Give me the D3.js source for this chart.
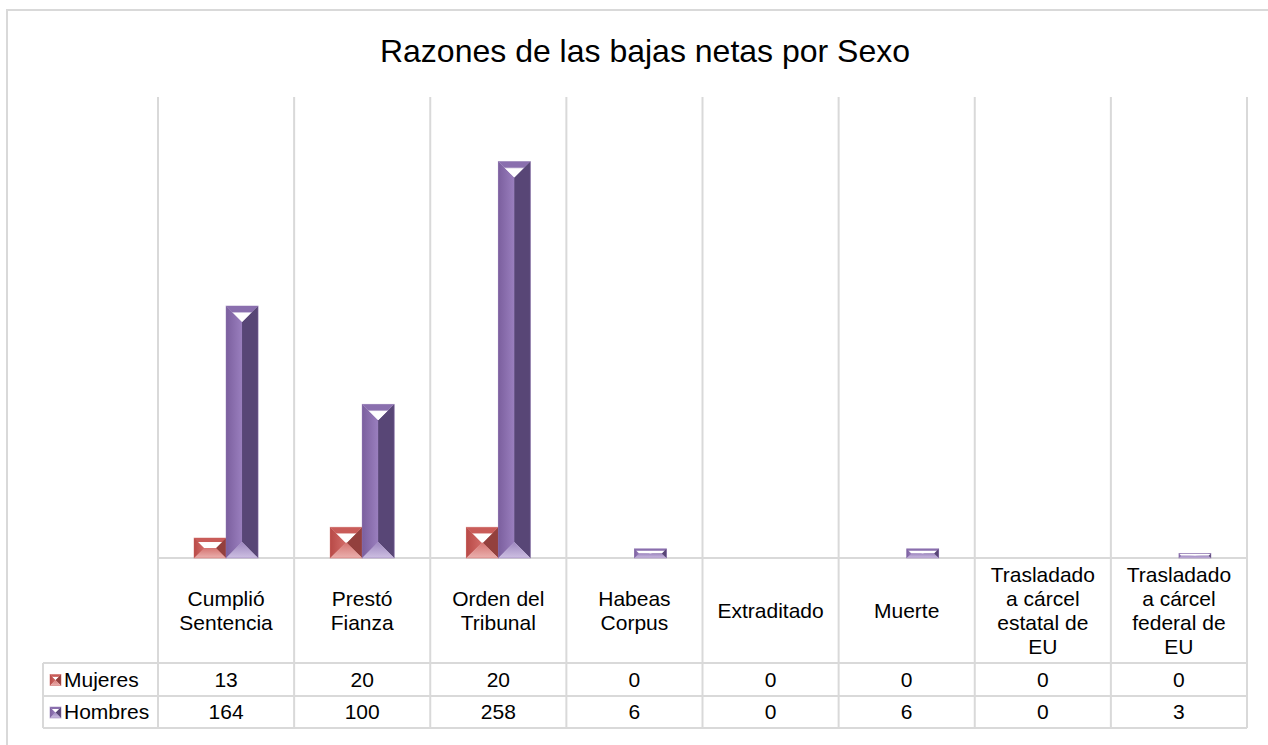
<!DOCTYPE html>
<html>
<head>
<meta charset="utf-8">
<script src="https://cdn.jsdelivr.net/npm/d3@7"></script>
<style>
  body { margin: 0; background: #fff; }
  svg { display: block; font-family: "Liberation Sans", Arial, sans-serif; }
</style>
</head>
<body>
<svg id="chart" width="1268" height="745"></svg>
<script>
var categories = [
  ["Cumplió", "Sentencia"],
  ["Prestó", "Fianza"],
  ["Orden del", "Tribunal"],
  ["Habeas", "Corpus"],
  ["Extraditado"],
  ["Muerte"],
  ["Trasladado", "a cárcel", "estatal de", "EU"],
  ["Trasladado", "a cárcel", "federal de", "EU"]
];
var seriesNames = ["Mujeres", "Hombres"];
var mujeres = [13, 20, 20, 0, 0, 0, 0, 0];
var hombres = [164, 100, 258, 6, 0, 6, 0, 3];
var yMax = 300;

// facet colours for each series
var palette = {
  Mujeres: { key: "m", edgeL: "#b84a47", innerL: "#d26b68", innerR: "#b84e4b", edgeR: "#93403d",
             topA: "#c95c59", topB: "#ffffff", botA: "#eab0ae", botB: "#d57471", mid: "#c0504d" },
  Hombres: { key: "h", edgeL: "#7b5f9e", innerL: "#9a7fbe", innerR: "#7f67a4", edgeR: "#584676",
             topA: "#8a6fae", topB: "#ffffff", botA: "#cdbfe2", botB: "#9d86bf", mid: "#8064a2" }
};

var svg = d3.select("#chart");
var defs = svg.append("defs");
seriesNames.forEach(function(s) {
  var c = palette[s];
  var gl = defs.append("linearGradient").attr("id", c.key + "L").attr("x1", 0).attr("x2", 1).attr("y1", 0).attr("y2", 0);
  gl.append("stop").attr("offset", 0).attr("stop-color", c.edgeL);
  gl.append("stop").attr("offset", 1).attr("stop-color", c.innerL);
  var gr = defs.append("linearGradient").attr("id", c.key + "R").attr("x1", 0).attr("x2", 1).attr("y1", 0).attr("y2", 0);
  gr.append("stop").attr("offset", 0).attr("stop-color", c.innerR);
  gr.append("stop").attr("offset", 1).attr("stop-color", c.edgeR);
  var gt = defs.append("linearGradient").attr("id", c.key + "T").attr("x1", 0).attr("x2", 0).attr("y1", 0).attr("y2", 1);
  gt.append("stop").attr("offset", 0).attr("stop-color", c.topA);
  gt.append("stop").attr("offset", 0.35).attr("stop-color", c.topA);
  gt.append("stop").attr("offset", 0.45).attr("stop-color", c.topB);
  gt.append("stop").attr("offset", 1).attr("stop-color", c.topB);
  var gb = defs.append("linearGradient").attr("id", c.key + "B").attr("x1", 0).attr("x2", 0).attr("y1", 0).attr("y2", 1);
  gb.append("stop").attr("offset", 0).attr("stop-color", c.botB);
  gb.append("stop").attr("offset", 1).attr("stop-color", c.botA);
});

var plotL = 158, plotR = 1247, plotT = 97, base = 558;
var tableL = 43, row1 = 663, row2 = 696, row3 = 728;
var grid = "#d9d9d9";

// outer frame
svg.append("rect").attr("x", 7).attr("y", 10).attr("width", 1280).attr("height", 760)
  .attr("fill", "none").attr("stroke", grid).attr("stroke-width", 2);

svg.append("text").attr("x", 645).attr("y", 62).attr("text-anchor", "middle")
  .attr("font-size", 32).attr("fill", "#000").text("Razones de las bajas netas por Sexo");

var ids = categories.map(function(d, i) { return "c" + i; });
var x = d3.scaleBand().domain(ids).range([plotL, plotR]).padding(0);
var y = d3.scaleLinear().domain([0, yMax]).range([base, plotT]);
var bw = x.bandwidth();
var x1 = d3.scaleBand().domain(seriesNames).range([bw / 2 - 32, bw / 2 + 32]).padding(0);

// vertical grid / table columns
ids.concat(["end"]).forEach(function(id) {
  var xx = id === "end" ? plotR : x(id);
  svg.append("line").attr("x1", xx).attr("x2", xx)
    .attr("y1", plotT).attr("y2", row3).attr("stroke", grid).attr("stroke-width", 2);
});
svg.append("line").attr("x1", tableL).attr("x2", tableL)
  .attr("y1", row1).attr("y2", row3).attr("stroke", grid).attr("stroke-width", 2);
// horizontal lines
svg.append("line").attr("x1", plotL).attr("x2", plotR).attr("y1", base).attr("y2", base)
  .attr("stroke", grid).attr("stroke-width", 2);
[row1, row2, row3].forEach(function(yy) {
  svg.append("line").attr("x1", tableL).attr("x2", plotR).attr("y1", yy).attr("y2", yy)
    .attr("stroke", grid).attr("stroke-width", 2);
});

// beveled bar: pyramid facets
function bevelBar(g, bx, by, w, h, c) {
  if (h <= 0) return;
  var d = Math.min(w / 2, h / 2);
  var x0 = bx, x2 = bx + w, y0 = by, y2 = by + h;
  function poly(pts, fill) {
    g.append("polygon").attr("points", pts.map(function(p) { return p.join(","); }).join(" "))
      .attr("fill", fill);
  }
  poly([[x0, y0], [x0 + w / 2, y0 + d], [x0 + w / 2, y2 - d], [x0, y2]], "url(#" + c.key + "L)");
  poly([[x2, y0], [x2 - w / 2, y0 + d], [x2 - w / 2, y2 - d], [x2, y2]], "url(#" + c.key + "R)");
  poly([[x0, y0], [x0 + d, y0 + d], [x0 + d, y2 - d], [x0, y2]], "url(#" + c.key + "L)");
  poly([[x2, y0], [x2 - d, y0 + d], [x2 - d, y2 - d], [x2, y2]], c.edgeR);
  poly([[x0, y0], [x2, y0], [x2 - d, y0 + d], [x0 + d, y0 + d]], "url(#" + c.key + "T)");
  poly([[x0, y2], [x2, y2], [x2 - d, y2 - d], [x0 + d, y2 - d]], "url(#" + c.key + "B)");
  g.append("rect").attr("x", x0).attr("y", y0).attr("width", w).attr("height", h)
    .attr("fill", "none").attr("stroke", c.topA).attr("stroke-opacity", 0.6).attr("stroke-width", 0.8);
}

var data = [mujeres, hombres];
seriesNames.forEach(function(s, si) {
  var g = svg.append("g");
  data[si].forEach(function(v, i) {
    var bx = x(ids[i]) + x1(s);
    bevelBar(g, bx, y(v), x1.bandwidth(), base - y(v), palette[s]);
  });
});

// category labels
var lineH = 24;
categories.forEach(function(lines, i) {
  var cx = x(ids[i]) + bw / 2;
  var midY = (base + row1) / 2;
  var startY = midY - (lines.length - 1) * lineH / 2 + 7;
  var t = svg.append("text").attr("text-anchor", "middle").attr("font-size", 21).attr("fill", "#000");
  lines.forEach(function(l, j) {
    t.append("tspan").attr("x", cx).attr("y", startY + j * lineH).text(l);
  });
});

// data table
var rowsY = [row1, row2];
seriesNames.forEach(function(s, si) {
  var ry = (rowsY[si] + (si ? row3 : row2)) / 2 + 7;
  bevelBar(svg.append("g"), 50, ry - 12, 11, 11, palette[s]);
  svg.append("text").attr("x", 64).attr("y", ry).attr("font-size", 21).text(s);
  data[si].forEach(function(v, i) {
    svg.append("text").attr("x", x(ids[i]) + bw / 2).attr("y", ry)
      .attr("text-anchor", "middle").attr("font-size", 21).text(v);
  });
});
</script>
</body>
</html>
